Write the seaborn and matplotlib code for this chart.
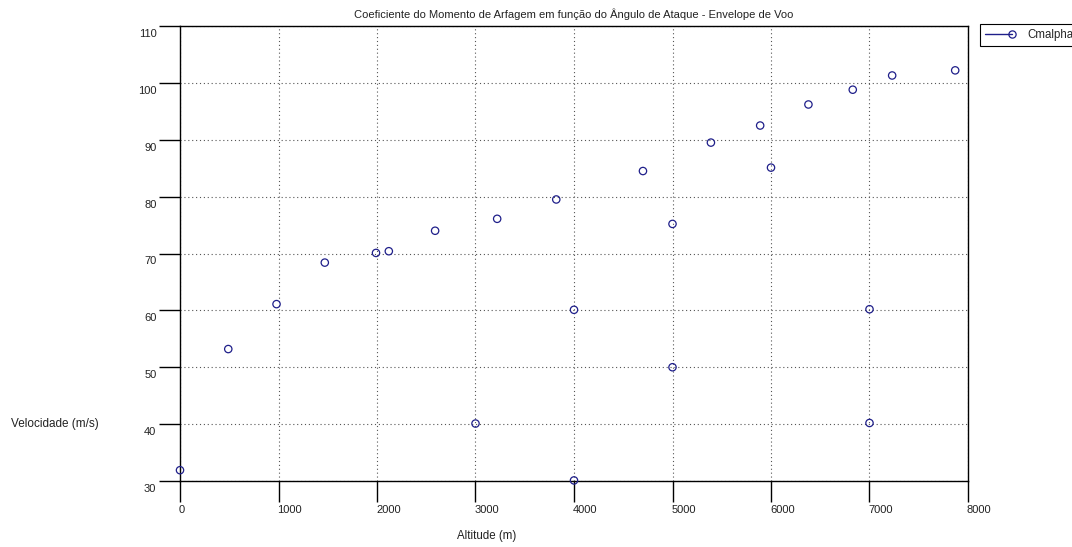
import matplotlib
matplotlib.use("Agg")
import matplotlib.pyplot as plt
import matplotlib.transforms as mtransforms
from matplotlib.lines import Line2D
from matplotlib.legend_handler import HandlerBase
import seaborn as sns
import pandas as pd

# ---- data ----
altitude = [0, 490, 980, 1470, 1990, 2120, 2590, 3220, 3820, 4700, 5390, 5890,
            6380, 6830, 7230, 7870, 3000, 4000, 4000, 5000, 5000, 6000, 7000, 7000]
velocidade = [31.9, 53.2, 61.1, 68.4, 70.1, 70.4, 74.0, 76.1, 79.5, 84.5, 89.5, 92.5,
              96.2, 98.8, 101.3, 102.2, 40.1, 60.1, 30.1, 75.2, 50.0, 85.1, 60.2, 40.2]
x_ticks = [0, 1000, 2000, 3000, 4000, 5000, 6000, 7000, 8000]
y_ticks = [30, 40, 50, 60, 70, 80, 90, 100, 110]
series_name = "Cmalpha"
title = "Coeficiente do Momento de Arfagem em função do Ângulo de Ataque - Envelope de Voo"
xlabel = "Altitude (m)"
ylabel = "Velocidade (m/s)"

df = pd.DataFrame({"Altitude": altitude, "Velocidade": velocidade})

sns.set_style("white")
plt.rcParams["font.family"] = ["Liberation Sans", "DejaVu Sans"]
plt.rcParams["font.size"] = 8

W, H = 1072, 547
fig = plt.figure(figsize=(W / 100, H / 100), dpi=100)
fig.patch.set_facecolor("white")
ax = fig.add_axes([180 / W, 1 - 481 / H, (968 - 180) / W, (481 - 26) / H])

navy = "#1f1f8a"
sns.scatterplot(data=df, x="Altitude", y="Velocidade", ax=ax, marker="o",
                s=28, facecolor="none", edgecolor=navy, linewidth=0.9, legend=False,
                clip_on=False, zorder=5)

ax.set_xlim(0, 8000)
ax.set_ylim(30, 110)
ax.set_xticks(x_ticks)
ax.set_yticks(y_ticks)
ax.set_xticklabels([str(t) for t in x_ticks])
ax.set_yticklabels([str(t) for t in y_ticks])

for s in ax.spines.values():
    s.set_visible(True)
    s.set_color("black")
    s.set_linewidth(1.0)

ax.grid(True, linestyle=(0, (1, 2.5)), color="#555555", linewidth=0.8)
ax.tick_params(axis="both", direction="out", length=15, width=1.0, color="black",
               labelsize=8, labelcolor="#222222", pad=2)
ax.tick_params(axis="x", bottom=True)
ax.tick_params(axis="y", left=True)

for lab in ax.get_xticklabels():
    lab.set_horizontalalignment("left")
    lab.set_transform(lab.get_transform() + mtransforms.ScaledTranslation(-0.01, 0, fig.dpi_scale_trans))
for lab in ax.get_yticklabels():
    lab.set_transform(lab.get_transform() + mtransforms.ScaledTranslation(0, -0.07, fig.dpi_scale_trans))

ax.set_title(title, fontsize=8, pad=6, color="#222222")
ax.set_xlabel(xlabel, fontsize=8.3, color="#222222", va="center")
ax.xaxis.set_label_coords((487 - 180) / 788, (481 - 536) / 455)
ax.set_ylabel(ylabel, fontsize=8.5, color="#222222", rotation=0, ha="center", va="center")
ax.yaxis.set_label_coords((55 - 180) / 788, (481 - 424) / 455)


class EndMarker(HandlerBase):
    def create_artists(self, legend, orig_handle, xdescent, ydescent, width, height, fontsize, trans):
        y = height / 2 - ydescent
        line = Line2D([-xdescent, width - xdescent], [y, y], color=navy, lw=1.0, transform=trans)
        mk = Line2D([width - xdescent], [y], marker="o", markersize=5.2, markerfacecolor="none",
                    markeredgecolor=navy, markeredgewidth=0.9, linestyle="", transform=trans)
        return [line, mk]


handle = Line2D([], [], color=navy, marker="o", markerfacecolor="none")
leg = ax.legend([handle], [series_name], handler_map={Line2D: EndMarker()},
                loc="upper left", bbox_to_anchor=(980 / W, 1 - 24 / H), bbox_transform=fig.transFigure,
                borderaxespad=0, fancybox=False, framealpha=1, edgecolor="black",
                fontsize=8.3, handlelength=2.3, handletextpad=1.4, borderpad=0.45)
leg.get_frame().set_linewidth(0.8)

fig.savefig("out.png", dpi=100, facecolor="white")
